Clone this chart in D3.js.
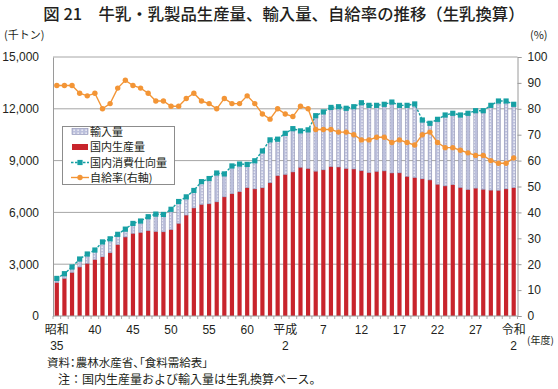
<!DOCTYPE html>
<html><head><meta charset="utf-8">
<script src="https://cdn.jsdelivr.net/npm/d3@7"></script>
<style>
body{margin:0;background:#fff;}
text{font-family:"Noto Sans CJK JP","Noto Sans",sans-serif;fill:#231f20;}
</style></head>
<body><svg id="c" width="558" height="389"></svg>
<script>
// fiscal years (昭和35 .. 令和2)
const years = [1960,1961,1962,1963,1964,1965,1966,1967,1968,1969,1970,1971,1972,1973,1974,1975,1976,1977,1978,1979,
1980,1981,1982,1983,1984,1985,1986,1987,1988,1989,1990,1991,1992,1993,1994,1995,1996,1997,1998,1999,
2000,2001,2002,2003,2004,2005,2006,2007,2008,2009,2010,2011,2012,2013,2014,2015,2016,2017,2018,2019,2020];
// 国内生産量 (千トン)
const production = [1939,2180,2526,2837,3053,3271,3431,3663,4140,4575,4789,4841,4944,4898,4876,5008,5369,5846,6256,6464,
6498,6612,6900,7086,7200,7436,7360,7428,7717,8134,8203,8343,8617,8550,8388,8467,8659,8629,8549,8513,
8414,8312,8380,8405,8284,8293,8091,8024,7946,7881,7631,7534,7608,7448,7331,7407,7342,7291,7282,7362,7438];
// 輸入量 (千トン)
const imports = [237,270,314,463,537,549,859,807,590,455,571,659,806,1002,1004,1172,1261,1054,1014,1316,
1462,1668,1330,1604,1600,1344,1630,2132,2483,2106,2377,2507,2103,2230,3212,3353,3421,3491,3481,3607,
3936,3888,3820,3855,4106,3907,4109,4256,3404,3279,3759,4106,4132,4192,4409,4483,4548,4909,5168,5088,4822];
// 国内消費仕向量 (千トン)
const consumption = [2176,2450,2840,3300,3590,3820,4290,4470,4730,5030,5360,5500,5750,5900,5880,6180,6630,6900,7270,7780,
7960,8280,8230,8690,8800,8780,8990,9560,10200,10240,10580,10850,10720,10780,11600,11820,12080,12120,12030,12120,
12350,12200,12200,12260,12390,12200,12200,12280,11350,11160,11390,11640,11740,11640,11740,11890,11890,12200,12450,12450,12260];
// 自給率 (%)
const selfRate = [89,89,89,86,85,86,80,82,88,91,89,88,86,83,83,81,81,84,86,83,
82,80,84,82,82,85,82,78,76,80,78,77,81,80,72,72,72,71,71,70,
68,68,69,69,67,68,67,66,70,71,67,65,65,64,63,62,62,60,59,59,61];
// tick labels
const tickYears = [1960,1965,1970,1975,1980,1985,1990,1995,2000,2005,2010,2015,2020];
const tickLine1 = ["昭和","40","45","50","55","60","平成","7","12","17","22","27","令和"];
const tickLine2 = ["35","","","","","","2","","","","","","2"];
const leftTicks = [0,3000,6000,9000,12000,15000];
const rightTicks = [0,10,20,30,40,50,60,70,80,90,100];
const legendLabels = ["輸入量","国内生産量","国内消費仕向量","自給率(右軸)"];

const C = {red:"#c8242c", imp:"#bcc0dc", impEdge:"#8d90b2", teal:"#17a0a4", orange:"#f39536", grid:"#a6a6a6", axis:"#9a9a9a"};
const NUMFONT = "Arial,'Liberation Sans',sans-serif";

const svg = d3.select("#c");
const L = 53, R = 517.5, T = 57, B = 316;
const x = d3.scaleBand().domain(years).range([L, R]).paddingInner(0.45).paddingOuter(0.225);
const y = d3.scaleLinear().domain([0,15000]).range([B,T]);
const y2 = d3.scaleLinear().domain([0,100]).range([B,T]);

// pattern for imports
const defs = svg.append("defs");
const pat = defs.append("pattern").attr("id","impPat").attr("patternUnits","userSpaceOnUse")
  .attr("width",4).attr("height",3);
pat.append("rect").attr("width",4).attr("height",3).attr("fill",C.imp);
pat.append("rect").attr("x",1.5).attr("y",0.5).attr("width",1.2).attr("height",1.4).attr("fill","#ffffff");

// title
svg.append("text").attr("x",284).attr("y",20).attr("text-anchor","middle")
  .style("font-size","16.4px").style("font-weight","500")
  .text("図 21　牛乳・乳製品生産量、輸入量、自給率の推移（生乳換算）");
svg.append("text").attr("x",4).attr("y",39).style("font-size","11px").text("(千トン)");
svg.append("text").attr("x",530).attr("y",39).style("font-size","11px").text("(%)");

// gridlines
svg.append("g").selectAll("line").data(leftTicks.filter(d=>d>0)).join("line")
  .attr("x1",L).attr("x2",R).attr("y1",d=>y(d)).attr("y2",d=>y(d))
  .attr("stroke",C.grid).attr("stroke-width",1);

// left axis
const gl = svg.append("g").attr("transform",`translate(${L},0)`)
  .call(d3.axisLeft(y).tickValues(leftTicks).tickFormat(d3.format(",")).tickSize(0).tickPadding(14));
gl.select(".domain").attr("stroke",C.axis);
gl.selectAll("text").style("font-size","12px").style("font-family",NUMFONT).attr("fill","#231f20");

// right axis
const gr = svg.append("g").attr("transform",`translate(${R},0)`)
  .call(d3.axisRight(y2).tickValues(rightTicks).tickSize(4).tickPadding(6));
gr.select(".domain").attr("stroke",C.axis);
gr.selectAll("line").attr("stroke",C.axis);
gr.selectAll("text").style("font-size","12px").style("font-family",NUMFONT).attr("fill","#231f20");

// bars
const bars = svg.append("g");
bars.selectAll("rect.p").data(years).join("rect").attr("class","p")
  .attr("x",d=>x(d)).attr("width",x.bandwidth())
  .attr("y",(d,i)=>y(production[i])).attr("height",(d,i)=>B-y(production[i]))
  .attr("fill",C.red);
bars.selectAll("rect.i").data(years).join("rect").attr("class","i")
  .attr("x",d=>x(d)+0.3).attr("width",x.bandwidth()-0.6)
  .attr("y",(d,i)=>y(production[i]+imports[i])).attr("height",(d,i)=>y(production[i])-y(production[i]+imports[i]))
  .attr("fill","url(#impPat)").attr("stroke",C.impEdge).attr("stroke-width",0.6);

// bottom axis
svg.append("line").attr("x1",L).attr("x2",R).attr("y1",B).attr("y2",B).attr("stroke",C.axis);
const step = x.step();
svg.append("g").selectAll("line").data(years.concat([null])).join("line")
  .attr("x1",(d,i)=>L+i*step).attr("x2",(d,i)=>L+i*step).attr("y1",B).attr("y2",B+3)
  .attr("stroke",C.axis).attr("stroke-width",0.8);
const cx = d => x(d)+x.bandwidth()/2;
const isNum = s => /^[0-9]+$/.test(s);
svg.append("g").selectAll("text").data(tickYears).join("text")
  .attr("x",d=>cx(d)).attr("y",334).attr("text-anchor","middle")
  .style("font-size","12px").style("font-family",(d,i)=>isNum(tickLine1[i])?NUMFONT:null)
  .text((d,i)=>tickLine1[i]);
svg.append("g").selectAll("text").data(tickYears).join("text")
  .attr("x",d=>cx(d)).attr("y",349.5).attr("text-anchor","middle")
  .style("font-size","12px").style("font-family",NUMFONT).text((d,i)=>tickLine2[i]);
svg.append("text").attr("x",527).attr("y",344).style("font-size","10px").text("(年度)");

// consumption line
const lineC = d3.line().x((d,i)=>cx(years[i])).y(d=>y(d));
svg.append("path").datum(consumption).attr("d",lineC).attr("fill","none")
  .attr("stroke",C.teal).attr("stroke-width",1.4).attr("stroke-dasharray","2.5,1.5");
svg.append("g").selectAll("rect").data(consumption).join("rect")
  .attr("x",(d,i)=>cx(years[i])-2.6).attr("y",d=>y(d)-2.6).attr("width",5.2).attr("height",5.2)
  .attr("fill",C.teal);

// self-sufficiency line
const lineR = d3.line().x((d,i)=>cx(years[i])).y(d=>y2(d));
svg.append("path").datum(selfRate).attr("d",lineR).attr("fill","none")
  .attr("stroke",C.orange).attr("stroke-width",1.4);
svg.append("g").selectAll("circle").data(selfRate).join("circle")
  .attr("cx",(d,i)=>cx(years[i])).attr("cy",d=>y2(d)).attr("r",2.7).attr("fill",C.orange);

// legend
const lg = svg.append("g");
lg.append("rect").attr("x",62.5).attr("y",126.5).attr("width",112).attr("height",58)
  .attr("fill","#fff").attr("stroke","#8c8c8c").attr("stroke-width",1);
const rowY = [131.5,147,162.5,177.5];
lg.selectAll("text").data(legendLabels).join("text")
  .attr("x",90).attr("y",(d,i)=>rowY[i]+4).style("font-size","11px").text(d=>d);
lg.append("rect").attr("x",72).attr("y",rowY[0]-3).attr("width",16).attr("height",6)
  .attr("fill","url(#impPat)").attr("stroke",C.impEdge).attr("stroke-width",0.6);
lg.append("rect").attr("x",72).attr("y",rowY[1]-3).attr("width",16).attr("height",6).attr("fill",C.red);
lg.append("line").attr("x1",71).attr("x2",89).attr("y1",rowY[2]).attr("y2",rowY[2])
  .attr("stroke",C.teal).attr("stroke-width",1.4).attr("stroke-dasharray","2.5,1.5");
lg.append("rect").attr("x",77.4).attr("y",rowY[2]-2.6).attr("width",5.2).attr("height",5.2).attr("fill",C.teal);
lg.append("line").attr("x1",71).attr("x2",89).attr("y1",rowY[3]).attr("y2",rowY[3])
  .attr("stroke",C.orange).attr("stroke-width",1.4);
lg.append("circle").attr("cx",80).attr("cy",rowY[3]).attr("r",2.7).attr("fill",C.orange);

// notes
svg.append("text").attr("x",47).attr("y",367).style("font-size","11.5px")
  .style("font-feature-settings","'palt'").text("資料：農林水産省、「食料需給表」");
svg.append("text").attr("x",58).attr("y",384).style("font-size","12px").text("注：国内生産量および輸入量は生乳換算ベース。");
</script></body></html>
